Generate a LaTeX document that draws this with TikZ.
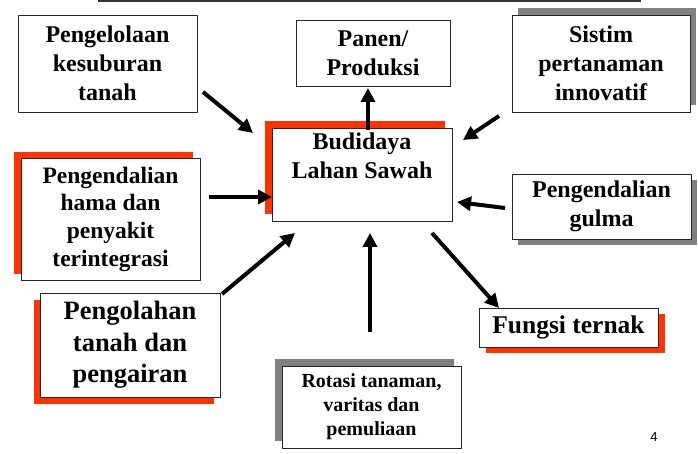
\documentclass[tikz,border=0pt]{standalone}
\usepackage{fontspec}
\setmainfont{Liberation Serif}
\newfontfamily\pagefont{Liberation Sans}
\usetikzlibrary{arrows.meta,shadows}
\definecolor{shred}{RGB}{255,51,0}
\definecolor{shgray}{RGB}{128,128,128}
\tikzset{
  box/.style={draw=black!85, line width=0.9pt, fill=white, inner sep=0pt,
    align=center, font=\bfseries\fontsize{24}{29}\selectfont},
  redsh/.style 2 args={drop shadow={shadow xshift=#1, shadow yshift=#2,
    fill=shred, opacity=1}},
  graysh/.style 2 args={drop shadow={shadow xshift=#1, shadow yshift=#2,
    fill=shgray, opacity=1}},
  arr/.style={line width=4pt, -{Triangle[length=14pt,width=14pt]}},
}
\begin{document}
\begin{tikzpicture}[x=1pt,y=1pt]
\useasboundingbox (0,0) rectangle (698,454);

% title rule
\draw[black!80, line width=1.5pt] (98,453) -- (641,453);

% boxes
\node[box, minimum width=179pt, minimum height=97pt] (kes) at (107.5,390.5)
  {Pengelolaan\\kesuburan\\tanah};
\node[box, minimum width=154pt, minimum height=66pt] (pan) at (373,401)
  {Panen/\\Produksi};
\node[box, graysh={6pt}{7pt}, minimum width=178pt, minimum height=97pt] (sis) at (601,390.5)
  {Sistim\\pertanaman\\innovatif};
\node[box, redsh={-7pt}{7pt}, minimum width=180pt, minimum height=93pt] (bud) at (362,279.5)
  {Budidaya\\Lahan Sawah\\\strut};
\node[box, redsh={-7pt}{6pt}, font=\bfseries\fontsize{23.5}{27.7}\selectfont,
  minimum width=179pt, minimum height=122pt] (hpt) at (110.5,235)
  {Pengendalian\\hama dan\\penyakit\\terintegrasi};
\node[box, graysh={6pt}{-6pt}, minimum width=179pt, minimum height=65pt] (gul) at (601.5,247.5)
  {Pengendalian\\gulma};
\node[box, redsh={-6pt}{-7pt}, font=\bfseries\fontsize{26.5}{31.5}\selectfont,
  minimum width=180pt, minimum height=104pt] (olah) at (130,109)
  {Pengolahan\\tanah dan\\pengairan};
\node[box, graysh={-7pt}{7pt}, font=\bfseries\fontsize{20}{24}\selectfont,
  minimum width=179pt, minimum height=82pt] (rot) at (371.5,47)
  {Rotasi tanaman,\\varitas dan\\pemuliaan};
\node[box, redsh={7pt}{-6pt}, font=\bfseries\fontsize{25.5}{30}\selectfont,
  minimum width=179pt, minimum height=39pt] (ter) at (568.5,126.5)
  {Fungsi ternak};

% page number
\node[font=\pagefont\fontsize{13}{15}\selectfont] (pg) at (654,17) {4};

% arrow ends
\coordinate (kesA) at (203,362);  \coordinate (kesB) at (253,321);
\coordinate (panA) at (368,324);  \coordinate (panB) at (368,366);
\coordinate (sisA) at (499,338);  \coordinate (sisB) at (463,314);
\coordinate (hptA) at (209,257);  \coordinate (hptB) at (272,257);
\coordinate (olahA) at (222,160); \coordinate (olahB) at (295,221);
\coordinate (gulA) at (505,246);  \coordinate (gulB) at (457,252);
\coordinate (rotA) at (370,122);  \coordinate (rotB) at (370,221);
\coordinate (terA) at (432,221);  \coordinate (terB) at (499,146);

% connectors
\draw[arr] (kesA) -- (kesB);
\draw[arr] (panA) -- (panB);
\draw[arr] (sisA) -- (sisB);
\draw[arr] (hptA) -- (hptB);
\draw[arr] (olahA) -- (olahB);
\draw[arr] (gulA) -- (gulB);
\draw[arr] (rotA) -- (rotB);
\draw[arr] (terA) -- (terB);
\end{tikzpicture}
\end{document}
